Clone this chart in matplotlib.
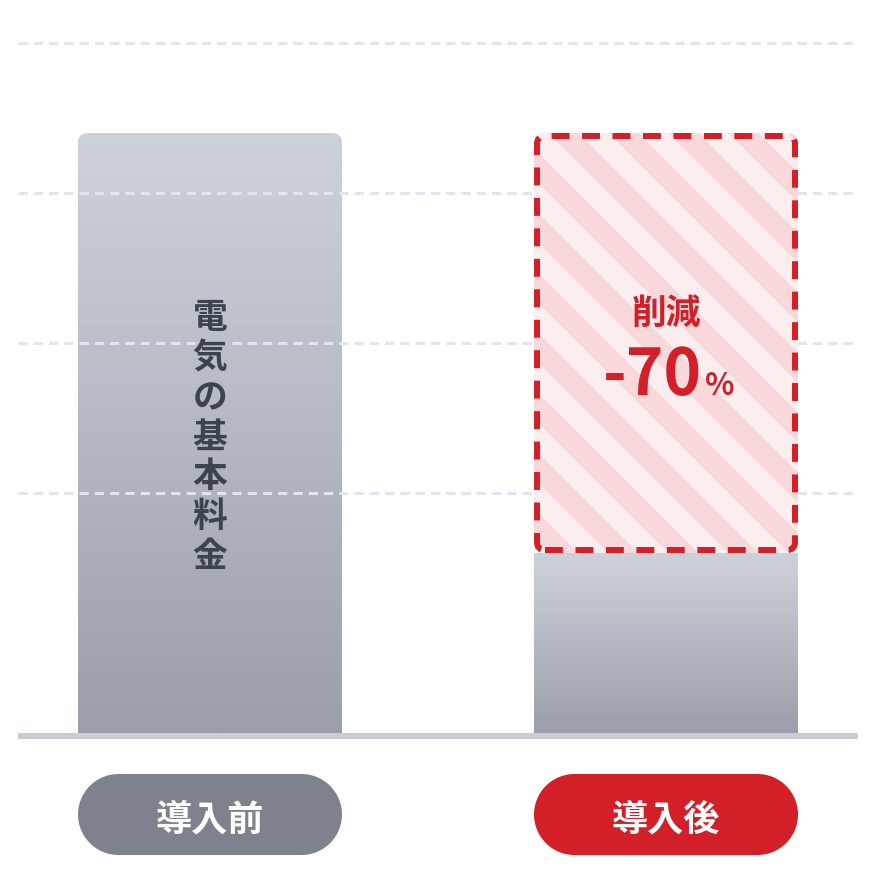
import numpy as np
import matplotlib
matplotlib.use('Agg')
import matplotlib.pyplot as plt
from matplotlib.patches import FancyBboxPatch, Rectangle, Ellipse
from matplotlib.colors import LinearSegmentedColormap

plt.rcParams['font.family'] = ['Noto Sans CJK JP', 'DejaVu Sans']

# data
categories = ['導入前', '導入後']
before_value = 100
after_value = 30
reduction_label = '削減'
reduction_pct = '-70'
bar_text = '電気の基本料金'
grid_levels = [40, 65, 90, 115]

# colours
grey_top = '#cdd2da'
grey_bottom = '#9a9fab'
red = '#d21f28'
pill_grey = '#7d828d'
stripe_light = '#fcedef'
stripe_dark = '#f9d8db'

W, H, DPI = 876, 873, 100
fig = plt.figure(figsize=(W / DPI, H / DPI), dpi=DPI)
ax = fig.add_axes([18 / W, 140 / H, 840 / W, 690 / H])
ax.set_xlim(-0.421, 1.421)
ax.set_ylim(0, 115)
ax.axis('off')

# pixel -> data scales
px_x = 840 / (1.421 + 0.421)   # px per x unit
px_y = 690 / 115               # px per y unit
aspect = px_x / px_y
bar_w = 264 / px_x
xs = np.arange(len(categories))

grad = LinearSegmentedColormap.from_list('g', [grey_bottom, grey_top])
gimg = np.linspace(0, 1, 256).reshape(-1, 1)


def rounded_box(x0, y0, w, h, r_px, **kw):
    r = r_px / px_x
    return FancyBboxPatch((x0, y0), w, h,
                          boxstyle='round,pad=0,rounding_size=%f' % r,
                          mutation_aspect=aspect, **kw)


def pill(xc, yc, w, h, color):
    # rectangle with two half-ellipse ends
    rx = h * px_y / px_x
    ax.add_patch(Rectangle((xc - w / 2 + rx / 2, yc - h / 2), w - rx, h,
                           facecolor=color, edgecolor='none', clip_on=False, zorder=6))
    for ex in (xc - w / 2 + rx / 2, xc + w / 2 - rx / 2):
        ax.add_patch(Ellipse((ex, yc), rx, h, facecolor=color, edgecolor='none',
                             clip_on=False, zorder=6))


# grid lines
for g in grid_levels:
    ax.axhline(g, color='#e3e4ef', lw=2.2, dashes=(3, 2), zorder=2, clip_on=False)

# before bar (gradient with rounded top)
x0 = xs[0] - bar_w / 2
clip = rounded_box(x0, -5, bar_w, before_value + 5, 10, facecolor='none', edgecolor='none')
ax.add_patch(clip)
im = ax.imshow(gimg, cmap=grad, origin='lower', aspect='auto',
               extent=[x0, x0 + bar_w, 0, before_value], zorder=1)
im.set_clip_path(clip)

# after bar: grey part
x1 = xs[1] - bar_w / 2
ax.imshow(gimg, cmap=grad, origin='lower', aspect='auto',
          extent=[x1, x1 + bar_w, 0, after_value], zorder=1)

# after bar: striped reduced part
box = rounded_box(x1, after_value, bar_w, before_value - after_value, 10,
                  facecolor='none', edgecolor='none')
ax.add_patch(box)
hpx = int(round((before_value - after_value) * px_y))
wpx = int(round(bar_w * px_x))
rr, cc = np.mgrid[0:hpx, 0:wpx]
stripes = ((cc - rr + 45) % 60) < 30
stripe_cmap = LinearSegmentedColormap.from_list('s', [stripe_light, stripe_dark])
im3 = ax.imshow(stripes.astype(float), cmap=stripe_cmap, origin='upper', aspect='auto',
                extent=[x1, x1 + bar_w, after_value, before_value], zorder=3,
                interpolation='nearest')
im3.set_clip_path(box)
inset = 3 / px_x
border = rounded_box(x1 + inset, after_value + 3 / px_y, bar_w - 2 * inset,
                     before_value - after_value - 6 / px_y, 8,
                     facecolor='none', edgecolor=red, lw=4.3,
                     linestyle=(0, (3.0, 2.1)), zorder=4)
ax.add_patch(border)

# baseline
ax.axhline(-0.5, color='#c8ccd4', lw=4.3, zorder=5, clip_on=False,
           solid_capstyle='butt')

# vertical text on the before bar
for i, ch in enumerate(bar_text):
    ax.text(xs[0], 69.2 - i * 39.8 / px_y, ch, ha='center', va='center',
            fontsize=25, fontweight='bold', color='#3d4450', zorder=6)

# reduction text
ax.text(xs[1], 70, reduction_label, ha='center', va='center',
        fontsize=25, fontweight='bold', color=red, zorder=6)
ax.text(xs[1] + 0.078, 56.3, reduction_pct, ha='right', va='baseline',
        fontsize=46, fontweight='bold', color=red, zorder=6)
ax.text(xs[1] + 0.085, 56.3, '%', ha='left', va='baseline',
        fontsize=22, fontweight='bold', color=red, zorder=6)

# category pills
pill_h = 81 / px_y
pill_c = -(41 + 40.5) / px_y
for x, lab, col in zip(xs, categories, [pill_grey, red]):
    pill(x, pill_c, bar_w, pill_h, col)
    ax.text(x, pill_c - 1.0, lab, ha='center', va='center',
            fontsize=26, fontweight='bold', color='white', zorder=7, clip_on=False)

fig.savefig('out.png', dpi=DPI, facecolor='white')
